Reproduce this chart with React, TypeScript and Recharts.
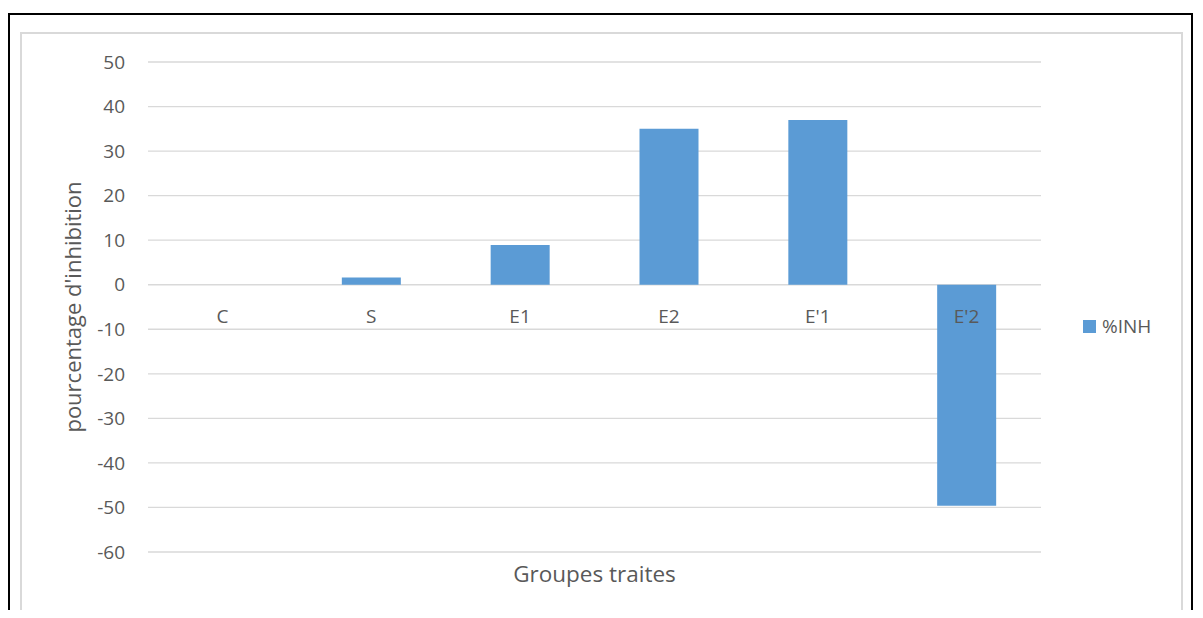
import React from 'react';
import { BarChart, Bar, XAxis, YAxis, CartesianGrid } from 'recharts';

const categories = ['C', 'S', 'E1', 'E2', "E'1", "E'2"];
const inhValues = [0, 1.6, 8.9, 35.0, 37.0, -49.6];
const yTicks = [-60, -50, -40, -30, -20, -10, 0, 10, 20, 30, 40, 50];
const yDomain: [number, number] = [-60, 50];
const seriesName = '%INH';

const data = categories.map((c, i) => ({ name: c, inh: inhValues[i] }));

const FONT = '"Open Sans", sans-serif';
const TEXT = '#595959';

const CHART_W = 1180;
const CHART_H = 610;
const M_TOP = 54;
const M_BOTTOM = 26;
const X_AXIS_H = 40;
const PLOT_H = CHART_H - M_TOP - M_BOTTOM - X_AXIS_H;

// offset from plot bottom to zero line, derived from the domain
const zeroOffset = ((0 - yDomain[0]) / (yDomain[1] - yDomain[0])) * PLOT_H;

const CategoryTick = (props: any) => {
  const { x, y, payload } = props;
  return (
    <text
      x={x}
      y={y - zeroOffset + 30}
      textAnchor="middle"
      fill={TEXT}
      fontSize={19}
      fontFamily={FONT}
    >
      {payload.value}
    </text>
  );
};

export default function App() {
  return (
    <div style={{ position: 'relative', width: 1187, height: 602 }}>
      <div
        style={{
          position: 'absolute',
          left: 0,
          top: 5,
          width: 1185,
          height: 640,
          border: '2px solid #000',
          borderBottom: 'none',
          boxSizing: 'border-box',
        }}
      />
      <div
        style={{
          position: 'absolute',
          left: 12,
          top: 24,
          width: 1163,
          height: 640,
          border: '2px solid #d9d9d9',
          borderBottom: 'none',
          boxSizing: 'border-box',
        }}
      />
      <div style={{ position: 'absolute', left: 0, top: 0 }}>
        <BarChart
          width={CHART_W}
          height={CHART_H}
          data={data}
          margin={{ top: M_TOP, right: 147, bottom: M_BOTTOM, left: 80 }}
        >
          <CartesianGrid vertical={false} stroke="#d9d9d9" strokeWidth={1.3} />
          <XAxis
            dataKey="name"
            height={X_AXIS_H}
            axisLine={false}
            tickLine={false}
            tick={<CategoryTick />}
            interval={0}
            label={{
              value: 'Groupes traites',
              position: 'insideBottom',
              offset: 10,
              fill: TEXT,
              fontSize: 22.5,
              fontFamily: FONT,
            }}
          />
          <YAxis
            width={60}
            domain={yDomain}
            ticks={yTicks}
            axisLine={false}
            tickLine={false}
            tickMargin={17}
            interval={0}
            tick={{ fill: TEXT, fontSize: 19, fontFamily: FONT }}
            label={{
              value: "pourcentage d'inhibition",
              angle: -90,
              position: 'insideLeft',
              offset: -15,
              style: { textAnchor: 'middle' },
              fill: TEXT,
              fontSize: 22,
              fontFamily: FONT,
            }}
          />
          <Bar dataKey="inh" name={seriesName} fill="#5b9bd5" barSize={59} isAnimationActive={false} />
        </BarChart>
      </div>
      <div
        style={{
          position: 'absolute',
          left: 1075,
          top: 305,
          display: 'flex',
          alignItems: 'center',
          fontFamily: FONT,
          fontSize: 19,
          color: TEXT,
          lineHeight: '26px',
        }}
      >
        <span style={{ display: 'inline-block', width: 13, height: 13, background: '#5b9bd5', marginRight: 6 }} />
        <span>{seriesName}</span>
      </div>
    </div>
  );
}
